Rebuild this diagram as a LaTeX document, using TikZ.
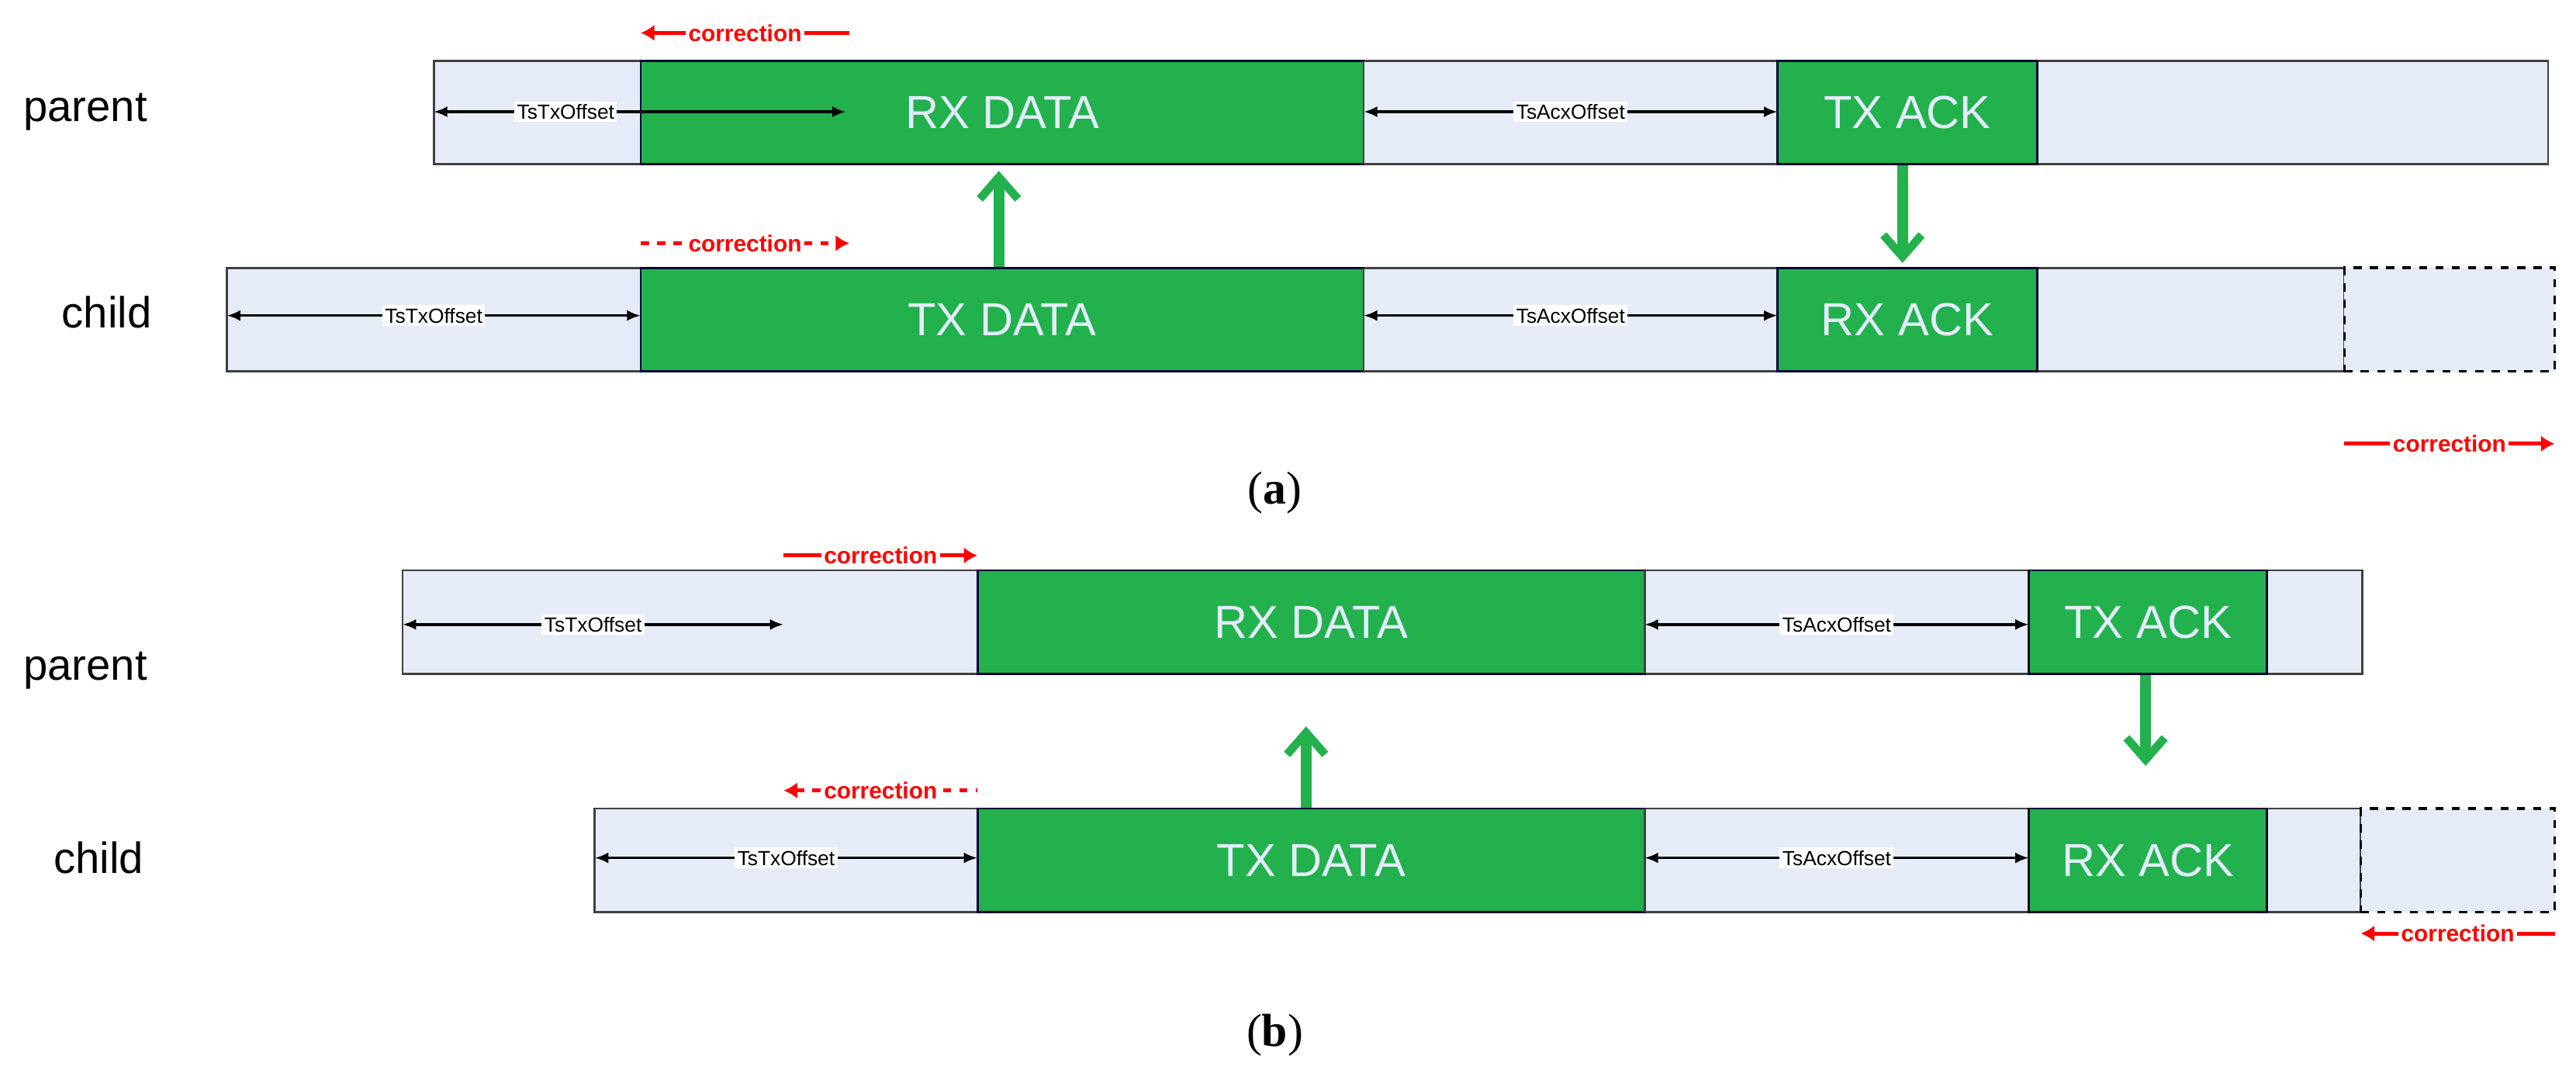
\documentclass[tikz,border=0pt]{standalone}
\usepackage{fontspec}
\setmainfont{Liberation Sans}
\newfontfamily\serifcap{Liberation Serif}
\usetikzlibrary{fit,arrows.meta}
\definecolor{gfill}{HTML}{22B14C}
\definecolor{lfill}{HTML}{E6ECF7}
\definecolor{txt}{HTML}{E4ECFF}
\begin{document}
\begin{tikzpicture}[x=0.0212cm,y=-0.0212cm,
  lb/.style={draw=black!75, line width=0.8pt, fill=lfill, inner sep=0pt},
  gb/.style={draw=black!80!blue, line width=0.8pt, fill=gfill, inner sep=0pt},
  gt/.style={text=txt, font=\fontsize{17}{17}\selectfont},
  db/.style={draw=black, dashed, line width=1pt, fill=lfill, inner sep=0pt},
  dim/.style={{Latex[length=5pt,width=4pt]}-{Latex[length=5pt,width=4pt]}, line width=1pt},
  dl/.style={fill=white, inner sep=1pt, font=\fontsize{7.5}{8}\selectfont},
  corr/.style={red, line width=1.4pt, font=\bfseries\fontsize{8.5}{9}\selectfont},
  gar/.style={gfill, line width=4pt, -{Straight Barb[length=8pt,width=14pt,line width=3pt]}},
  row/.style={font=\fontsize{16}{18}\selectfont},
  figcap/.style={font=\serifcap\fontsize{17}{18}\selectfont}]
\useasboundingbox (0,0) rectangle (1568,655);
% (a)
\node[row] (pa) at (52,68) {parent};
\node[row] (ca) at (65,190) {child};
\node[lb, fit={(264,37) (1551,100)}] (pabg) {};
\node[gb, fit={(390,37) (830,100)}] (parx) {};
\node[gt] (parxt) at (parx.center) {RX DATA};
\node[gb, fit={(1082,37) (1240,100)}] (patx) {};
\node[gt] (patxt) at (patx.center) {TX ACK};
\node[lb, fit={(138,163) (1427,226)}] (cabg) {};
\node[gb, fit={(390,163) (830,226)}] (catx) {};
\node[gt] (catxt) at (catx.center) {TX DATA};
\node[gb, fit={(1082,163) (1240,226)}] (carx) {};
\node[gt] (carxt) at (carx.center) {RX ACK};
\node[db, fit={(1427,163) (1555,226)}] (cad) {};
\draw[line width=0.8pt, black!75] (830,37) -- (830,100) (830,163) -- (830,226);
\coordinate (a1) at (264,68); \coordinate (a2) at (515,68);
\draw[dim] (a1) -- node[dl, pos=0.32]{TsTxOffset} (a2);
\coordinate (a3) at (830,68); \coordinate (a4) at (1082,68);
\draw[dim] (a3) -- node[dl]{TsAcxOffset} (a4);
\coordinate (a5) at (138,192); \coordinate (a6) at (390,192);
\draw[dim] (a5) -- node[dl]{TsTxOffset} (a6);
\coordinate (a7) at (830,192); \coordinate (a8) at (1082,192);
\draw[dim] (a7) -- node[dl]{TsAcxOffset} (a8);
\coordinate (c1) at (390,20); \coordinate (c2) at (517,20);
\draw[corr, {Latex[length=5pt,width=6pt]}-] (c1) -- node[fill=white,inner sep=1pt]{correction} (c2);
\coordinate (c3) at (390,148); \coordinate (c4) at (517,148);
\draw[corr, dashed, -{Latex[length=5pt,width=6pt]}] (c3) -- node[fill=white,inner sep=1pt]{correction} (c4);
\coordinate (c5) at (1427,270); \coordinate (c6) at (1555,270);
\draw[corr, -{Latex[length=5pt,width=6pt]}] (c5) -- node[fill=white,inner sep=1pt]{correction} (c6);
\draw[gar] (catx.north -| 608,0) -- (608,104);
\draw[gar] (patx.south -| 1158,0) -- (1158,160);
\node[figcap] (la) at (776,300) {(\textbf{a})};
% (b)
\node[row] (pb) at (52,408) {parent};
\node[row] (cb) at (60,522) {child};
\node[lb, fit={(245,347) (1438,410)}] (pbbg) {};
\node[gb, fit={(595,347) (1001,410)}] (pbrx) {};
\node[gt] (pbrxt) at (pbrx.center) {RX DATA};
\node[gb, fit={(1235,347) (1380,410)}] (pbtx) {};
\node[gt] (pbtxt) at (pbtx.center) {TX ACK};
\node[lb, fit={(362,492) (1437,555)}] (cbbg) {};
\node[gb, fit={(595,492) (1001,555)}] (cbtx) {};
\node[gt] (cbtxt) at (cbtx.center) {TX DATA};
\node[gb, fit={(1235,492) (1380,555)}] (cbrx) {};
\node[gt] (cbrxt) at (cbrx.center) {RX ACK};
\node[db, fit={(1437,492) (1555,555)}] (cbd) {};
\draw[line width=0.8pt, black!75] (1001,347) -- (1001,410) (1001,492) -- (1001,555);
\coordinate (b1) at (245,380); \coordinate (b2) at (477,380);
\draw[dim] (b1) -- node[dl]{TsTxOffset} (b2);
\coordinate (b3) at (1001,380); \coordinate (b4) at (1235,380);
\draw[dim] (b3) -- node[dl]{TsAcxOffset} (b4);
\coordinate (b5) at (362,522); \coordinate (b6) at (595,522);
\draw[dim] (b5) -- node[dl]{TsTxOffset} (b6);
\coordinate (b7) at (1001,522); \coordinate (b8) at (1235,522);
\draw[dim] (b7) -- node[dl]{TsAcxOffset} (b8);
\coordinate (d1) at (477,338); \coordinate (d2) at (595,338);
\draw[corr, -{Latex[length=5pt,width=6pt]}] (d1) -- node[fill=white,inner sep=1pt]{correction} (d2);
\coordinate (d3) at (477,481); \coordinate (d4) at (595,481);
\draw[corr, dashed, {Latex[length=5pt,width=6pt]}-] (d3) -- node[fill=white,inner sep=1pt]{correction} (d4);
\coordinate (d5) at (1437,568); \coordinate (d6) at (1555,568);
\draw[corr, {Latex[length=5pt,width=6pt]}-] (d5) -- node[fill=white,inner sep=1pt]{correction} (d6);
\draw[gar] (cbtx.north -| 795,0) -- (795,442);
\draw[gar] (pbtx.south -| 1306,0) -- (1306,466);
\node[figcap] (labb) at (776,630) {(\textbf{b})};
\end{tikzpicture}
\end{document}
